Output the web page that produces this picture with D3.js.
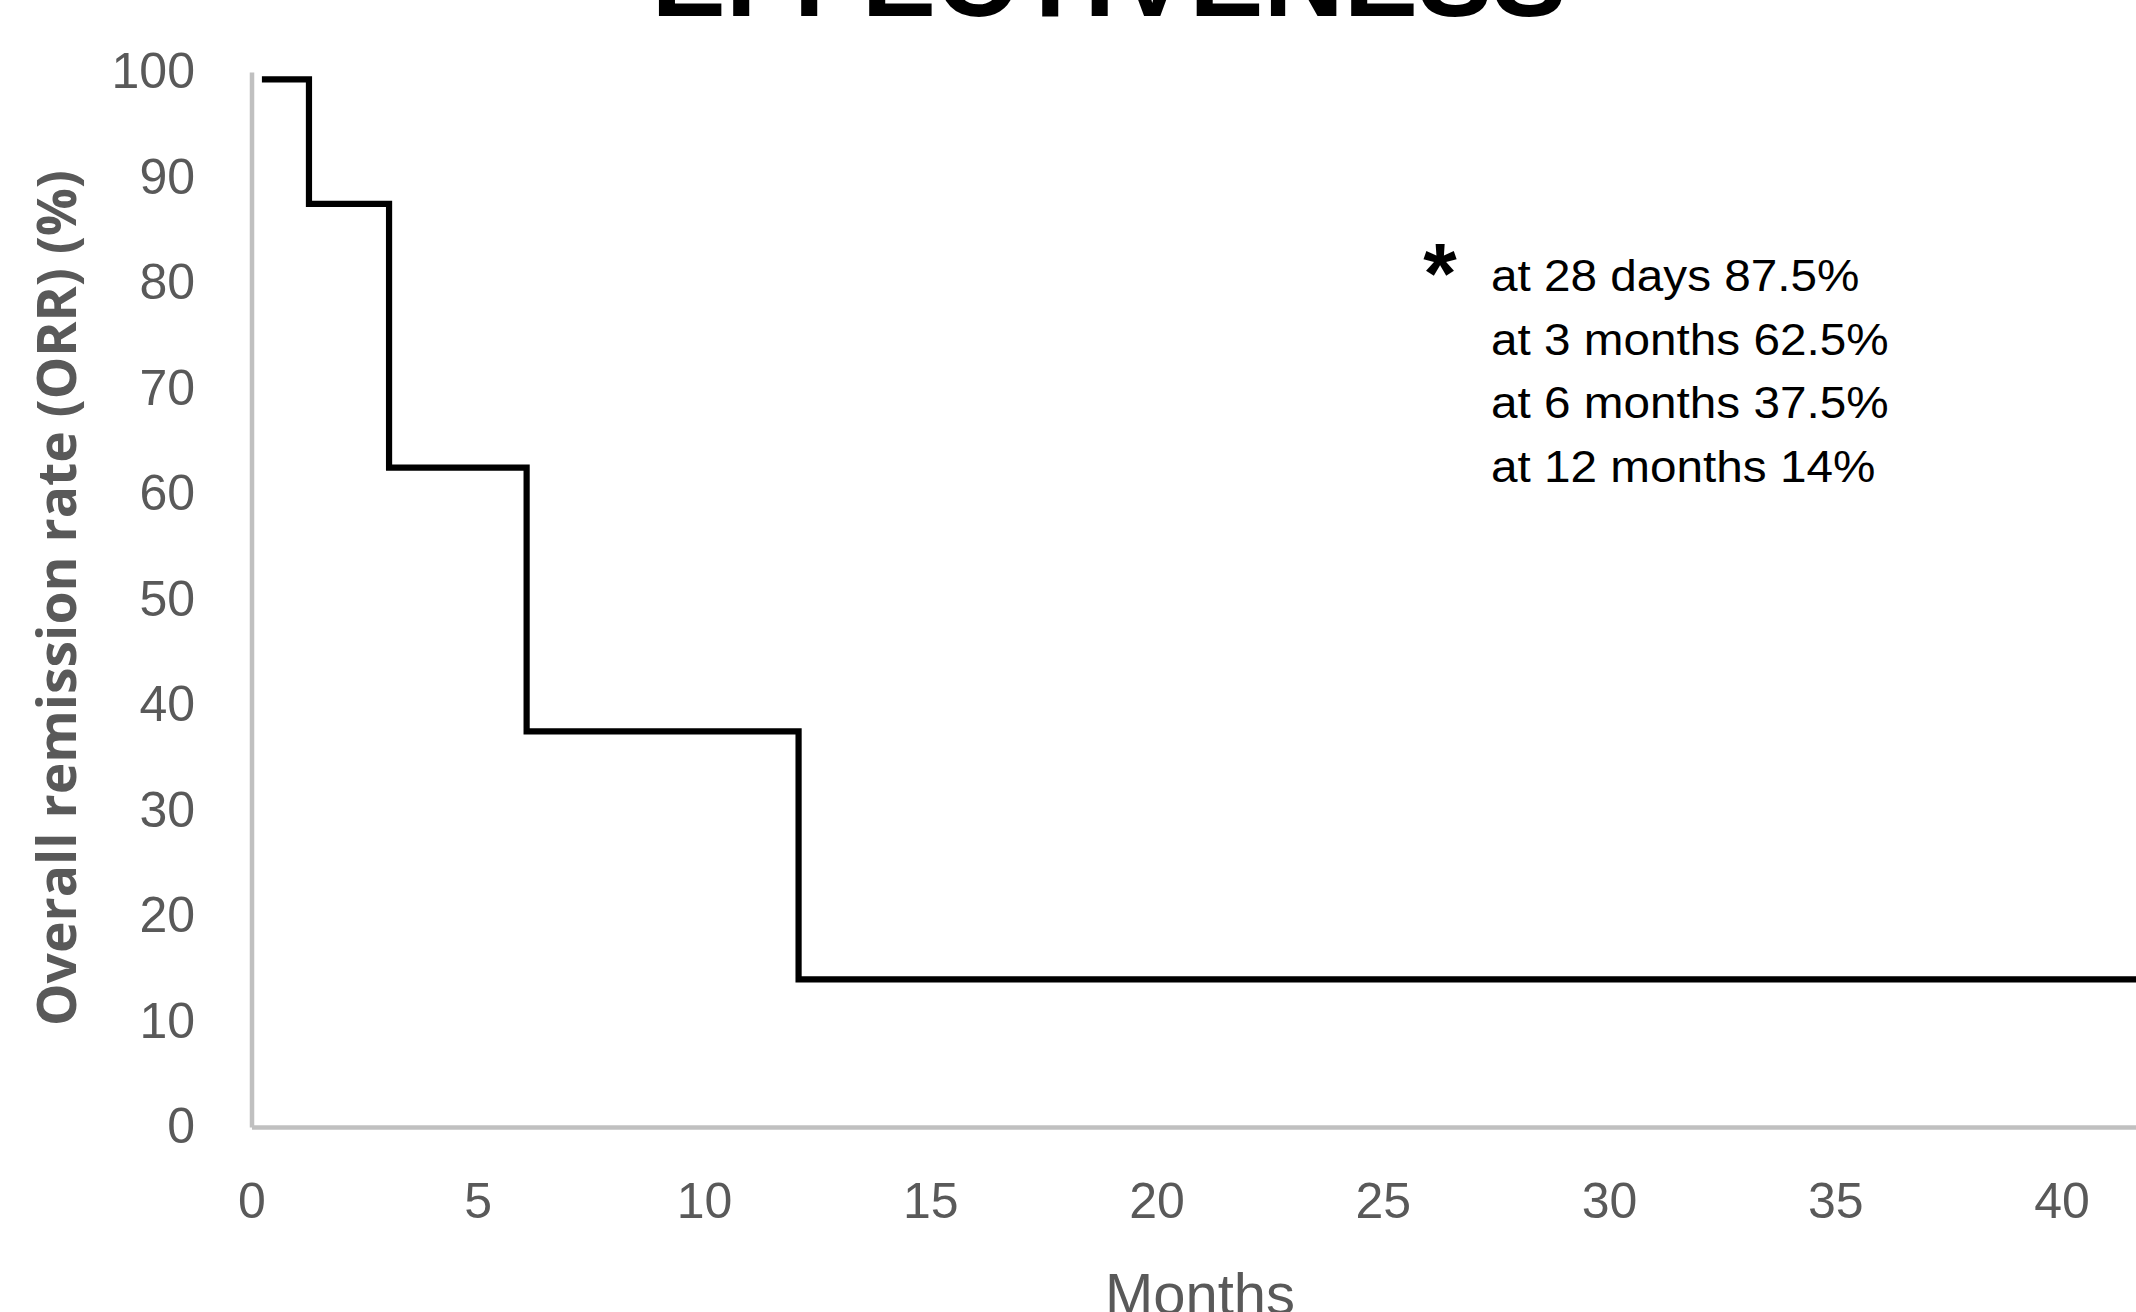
<!DOCTYPE html>
<html>
<head>
<meta charset="utf-8">
<script src="https://cdn.jsdelivr.net/npm/d3@7"></script>
<style>
  html, body { margin: 0; padding: 0; background: #ffffff; overflow: hidden; }
  svg { display: block; }
</style>
</head>
<body>
<svg id="chart" width="2136" height="1312"></svg>
<script>
// ---- data ----
const stepMonths = [0.23, 1.27, 3.04, 6.08, 12.09, 45];
const stepRates  = [99.3, 87.5, 62.5, 37.5, 14, 14];
const xTicks = [0, 5, 10, 15, 20, 25, 30, 35, 40];
const yTicks = [0, 10, 20, 30, 40, 50, 60, 70, 80, 90, 100];
const noteLines = ["at 28 days 87.5%", "at 3 months 62.5%", "at 6 months 37.5%", "at 12 months 14%"];
const chartTitle = "EFFECTIVENESS";
const xTitle = "Months";
const yTitle = "Overall remission rate (ORR) (%)";

const W = 2136, H = 1312;
const svg = d3.select("#chart");
svg.append("rect").attr("width", W).attr("height", H).attr("fill", "#ffffff");

const x0 = 251.5, pxPerMonth = 45.25;
const x = d3.scaleLinear().domain([0, 45]).range([x0, x0 + 45 * pxPerMonth]);
const y = d3.scaleLinear().domain([0, 100]).range([1127, 72]);

const gray = "#595959";
const axisGray = "#c0c0c0";

function fitFont(sel, target, start) {
  sel.attr("font-size", start);
  const len = sel.node().getComputedTextLength();
  sel.attr("font-size", start * target / len);
}

// y axis
const gy = svg.append("g").attr("transform", `translate(${x0},0)`)
  .call(d3.axisLeft(y).tickValues(yTicks).tickSize(0).tickSizeOuter(0).tickPadding(56.5));
gy.select(".domain").attr("stroke", axisGray).attr("stroke-width", 4.5);
gy.selectAll("text").attr("font-family", "'Liberation Sans', Arial, sans-serif")
  .attr("font-size", 50).attr("fill", gray).attr("dy", "0.31em");

// x axis
const gx = svg.append("g").attr("transform", `translate(0,${y(0)})`)
  .call(d3.axisBottom(x).tickValues(xTicks).tickSize(0).tickSizeOuter(0).tickPadding(55.5));
gx.select(".domain").attr("stroke", axisGray).attr("stroke-width", 4.5);
gx.selectAll("text").attr("font-family", "'Liberation Sans', Arial, sans-serif")
  .attr("font-size", 50).attr("fill", gray);

// step line
const pts = stepMonths.map((m, i) => [m, stepRates[i]]);
const line = d3.line().x(d => x(d[0])).y(d => y(d[1])).curve(d3.curveStepAfter);
svg.append("path").datum(pts).attr("d", line)
  .attr("fill", "none").attr("stroke", "#000000").attr("stroke-width", 6.2)
  .attr("stroke-linejoin", "miter").attr("stroke-linecap", "butt");

// chart title (cut off at top, as in the reference)
const t = svg.append("text").attr("x", 1109).attr("y", 16)
  .attr("text-anchor", "middle").attr("font-family", "'Liberation Sans', Arial, sans-serif")
  .attr("font-weight", "bold").attr("fill", "#000000").text(chartTitle);
fitFont(t, 915, 110);

// x title
const xt = svg.append("text").attr("x", 1200).attr("y", 1314)
  .attr("text-anchor", "middle").attr("font-family", "'Liberation Sans', Arial, sans-serif")
  .attr("fill", gray).text(xTitle);
fitFont(xt, 190, 56);

// y title
const yt = svg.append("text").attr("transform", "translate(76,598) rotate(-90)")
  .attr("text-anchor", "middle").attr("font-family", "'Open Sans', sans-serif")
  .attr("font-weight", "bold").attr("fill", gray).text(yTitle);
fitFont(yt, 856, 56);

// annotation
const note = svg.append("g").attr("transform", "translate(1491,0) scale(1.06,1)");
note.selectAll("text.note").data(noteLines).join("text").attr("class", "note")
  .attr("x", 0).attr("y", (d, i) => 291 + i * 63.7)
  .attr("font-family", "'Liberation Sans', Arial, sans-serif").attr("font-size", 45)
  .attr("fill", "#000000").text(d => d);
svg.append("text").attr("x", 1440).attr("y", 303).attr("text-anchor", "middle")
  .attr("font-family", "'Liberation Sans', Arial, sans-serif").attr("font-weight", "bold")
  .attr("font-size", 86).attr("fill", "#000000").text("*");
</script>
</body>
</html>
